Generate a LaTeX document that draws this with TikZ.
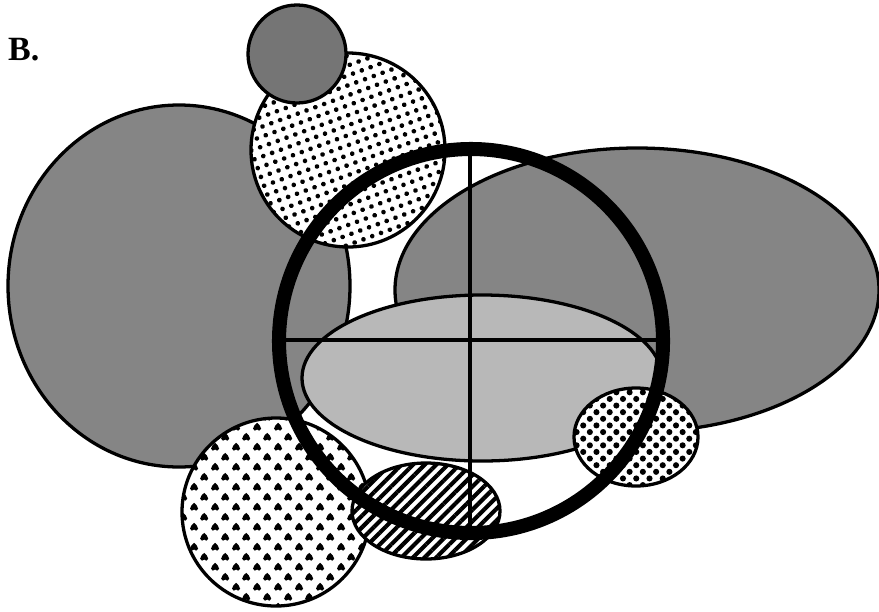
\documentclass[tikz,border=0pt]{standalone}
\usepackage{fontspec}
\setmainfont{Liberation Serif}
\usetikzlibrary{patterns,patterns.meta}

% small heart, point up
\newcommand{\heartshape}{%
  \pgfpathmoveto{\pgfpoint{0pt}{3.6pt}}%
  \pgfpathcurveto{\pgfpoint{-1.2pt}{2.4pt}}{\pgfpoint{-3.8pt}{0.6pt}}{\pgfpoint{-3.6pt}{-1.4pt}}%
  \pgfpathcurveto{\pgfpoint{-3.4pt}{-3.6pt}}{\pgfpoint{-0.7pt}{-3.6pt}}{\pgfpoint{0pt}{-2.1pt}}%
  \pgfpathcurveto{\pgfpoint{0.7pt}{-3.6pt}}{\pgfpoint{3.4pt}{-3.6pt}}{\pgfpoint{3.6pt}{-1.4pt}}%
  \pgfpathcurveto{\pgfpoint{3.8pt}{0.6pt}}{\pgfpoint{1.2pt}{2.4pt}}{\pgfpoint{0pt}{3.6pt}}%
  \pgfpathclose\pgfusepath{fill}}
\pgfdeclarepatternformonly{hearts}{\pgfpointorigin}{\pgfpoint{18pt}{17pt}}{\pgfpoint{18pt}{17pt}}{%
  \pgftransformshift{\pgfpoint{4.5pt}{4.25pt}}\heartshape
  \pgftransformshift{\pgfpoint{9pt}{8.5pt}}\heartshape}

\begin{document}
\begin{tikzpicture}[
  x=0.03cm, y=-0.03cm,
  outline/.style={draw, line width=2.8pt},
  darkgray/.style={outline, fill=black!48},
  lightgray/.style={outline, fill=black!28},
  dotfill/.style={outline, preaction={fill=white}, pattern={Dots[radius=2pt, distance=8pt, angle=20]}},
  bigdots/.style={outline, preaction={fill=white}, pattern={Dots[radius=2.6pt, distance=8pt, angle=45]}},
  heartfill/.style={outline, preaction={fill=white}, pattern=hearts},
  hatchfill/.style={outline, preaction={fill=white}, pattern={Lines[angle=45, distance=7pt, line width=3.5pt]}},
  ring/.style={draw, line width=12pt},
  cross/.style={draw, line width=4pt}
]
\useasboundingbox (0,0) rectangle (879,611);

% label
\node[anchor=base west, inner sep=0pt, font=\fontsize{29}{32}\selectfont\bfseries] (lbl) at (8,60) {B.};

% back shapes
\path[darkgray] (179,286) ellipse [x radius=171, y radius=181];
\path[dotfill] (348,150) circle [radius=97];
\path[darkgray, fill=black!54] (297,54) circle [radius=49];
\path[darkgray] (637,290) ellipse [x radius=242, y radius=142];
\path[lightgray] (482,378) ellipse [x radius=180, y radius=83];

% front shapes
\path[heartfill] (276,512) circle [radius=94];
\path[hatchfill] (426,511) ellipse [x radius=74, y radius=48];
\path[bigdots] (636,437) ellipse [x radius=62, y radius=49];

% ring and cross
\coordinate (rtop) at (470,149);
\coordinate (rbot) at (470,533);
\coordinate (rleft) at (279,340);
\coordinate (rright) at (663,340);
\path[cross] (rtop) -- (rbot);
\path[cross] (rleft) -- (rright);
\path[ring] (471,341) circle [radius=192];

\end{tikzpicture}
\end{document}
